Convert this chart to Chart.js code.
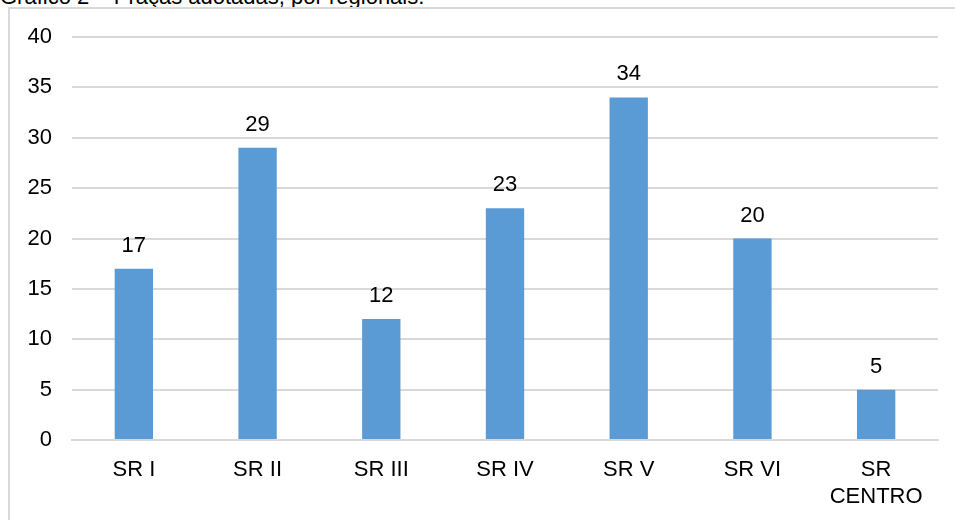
<!DOCTYPE html>
<html><head><meta charset="utf-8">
<script src="https://cdn.jsdelivr.net/npm/chart.js@4/dist/chart.umd.min.js"></script>
<style>
html,body{margin:0;padding:0;background:#fff;width:955px;height:520px;overflow:hidden;font-family:"Liberation Sans",Arial,sans-serif;}
#title{position:absolute;left:0;top:-16px;font-size:22px;color:#000;white-space:nowrap;}
#frame{position:absolute;left:8px;top:7px;width:960px;height:530px;border-left:2px solid #d9d9d9;border-top:2px solid #d9d9d9;}
#wrap{position:absolute;left:10px;top:9px;width:945px;height:511px;}
</style></head><body>
<div id="title">Gráfico 2 – Praças adotadas, por regionais.</div>
<div id="frame"></div>
<div id="wrap"><canvas id="c"></canvas></div>
<script>
const categories = [["SR I"], ["SR II"], ["SR III"], ["SR IV"], ["SR V"], ["SR VI"], ["SR", "CENTRO"]];
const values = [17, 29, 12, 23, 34, 20, 5];
const yTicks = [0, 5, 10, 15, 20, 25, 30, 35, 40];

const labelPlugin = {
  id: 'lbl',
  afterDatasetsDraw(chart) {
    const ctx = chart.ctx;
    const meta = chart.getDatasetMeta(0);
    ctx.save();
    ctx.font = '22px "Liberation Sans", Arial, sans-serif';
    ctx.fillStyle = '#000';
    ctx.textAlign = 'center';
    ctx.textBaseline = 'alphabetic';
    meta.data.forEach((bar, i) => {
      ctx.fillText(String(values[i]), bar.x, bar.y - 17);
    });
    ctx.restore();
  }
};

new Chart(document.getElementById('c'), {
  type: 'bar',
  data: {
    labels: categories,
    datasets: [{ data: values, backgroundColor: '#5b9bd5', borderWidth: 0, barPercentage: 0.31, categoryPercentage: 1 }]
  },
  options: {
    responsive: true, maintainAspectRatio: false, animation: false,
    layout: { padding: { top: 28, right: 17, left: 0, bottom: 0 } },
    plugins: { legend: { display: false }, tooltip: { enabled: false } },
    scales: {
      x: {
        grid: { display: false },
        border: { display: true, color: '#d9d9d9', width: 2 },
        ticks: { color: '#000', font: { family: '"Liberation Sans", Arial, sans-serif', size: 22, lineHeight: 1.23 }, maxRotation: 0, padding: 8 },
        afterFit(s) { s.height = 511 - 431; }
      },
      y: {
        min: 0, max: 40,
        afterBuildTicks(s) { s.ticks = yTicks.map(v => ({ value: v })); },
        grid: { color: '#d9d9d9', lineWidth: 2, drawTicks: false },
        border: { display: false },
        ticks: { color: '#000', font: { family: '"Liberation Sans", Arial, sans-serif', size: 22, lineHeight: 0.5 }, padding: 20 },
        afterFit(s) { s.width = 62; }
      }
    }
  },
  plugins: [labelPlugin]
});
</script>
</body></html>
